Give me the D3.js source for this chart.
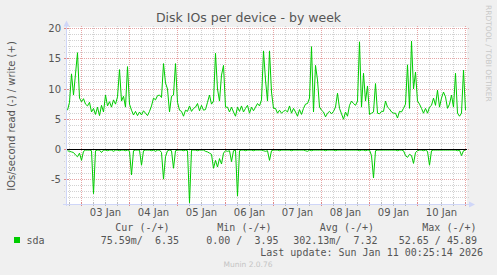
<!DOCTYPE html>
<html><head><meta charset="utf-8">
<script src="https://cdn.jsdelivr.net/npm/d3@7"></script>
<style>
body{margin:0;background:#f0f0f0;}
svg{display:block;}
text{font-family:"DejaVu Sans",sans-serif;fill:#555;}
.mono{font-family:"DejaVu Sans Mono",monospace;white-space:pre;}
</style>
</head><body><svg id="c" width="497" height="275"></svg>
<script>
const title = "Disk IOs per device - by week";
const yLabel = "IOs/second read (-) / write (+)";
const firstSample = Date.UTC(2026, 0, 2, 17, 0); // hourly samples
const writeValues = [
 6.5, 7.8, 12.5, 9.0, 12.5, 16.0, 8.5, 7.9, 8.4, 7.5,
 7.2, 7.8, 6.2, 6.8, 5.8, 7.0, 5.6, 7.3, 6.2, 9.0,
 7.2, 7.9, 7.0, 8.2, 7.5, 8.7, 13.2, 8.0, 8.8, 7.0,
 13.7, 7.5, 6.5, 5.7, 6.3, 5.6, 6.2, 5.7, 6.4, 6.0,
 5.6, 6.3, 7.2, 8.5, 8.2, 8.9, 9.0, 8.6, 14.2, 11.0,
 10.0, 6.2, 8.8, 9.0, 14.2, 7.8, 6.5, 6.3, 5.5, 6.5,
 6.3, 7.2, 6.3, 6.8, 7.0, 7.6, 6.4, 7.3, 6.5, 6.6,
 7.8, 9.0, 7.5, 8.0, 15.9, 10.0, 8.0, 12.3, 13.9, 7.0,
 7.0, 6.2, 7.0, 6.2, 5.5, 7.0, 6.3, 7.2, 6.2, 6.8,
 7.3, 6.0, 7.0, 6.4, 7.0, 7.6, 7.2, 8.2, 16.3, 11.5,
 8.0, 16.3, 9.5, 6.8, 6.8, 6.0, 6.5, 6.0, 6.3, 6.5,
 6.2, 7.2, 6.0, 6.8, 6.2, 5.5, 6.6, 5.8, 6.8, 7.5,
 7.6, 8.5, 17.0, 6.2, 13.9, 11.5, 7.0, 6.5, 6.2, 5.4,
 6.0, 6.3, 5.9, 6.3, 7.0, 9.3, 6.8, 5.9, 5.0, 6.2,
 5.5, 7.3, 8.0, 7.6, 7.3, 8.0, 17.8, 7.0, 12.6, 8.0,
 10.5, 5.8, 6.0, 6.2, 10.9, 6.0, 5.9, 6.3, 6.3, 8.0,
 7.0, 6.7, 6.2, 6.0, 6.0, 5.2, 6.3, 6.2, 6.8, 7.5,
 14.0, 6.8, 17.9, 10.0, 12.8, 8.0, 7.5, 6.8, 6.0, 6.8,
 6.0, 7.0, 7.3, 8.5, 7.3, 9.8, 7.0, 8.5, 9.5, 8.7,
 6.8, 7.5, 9.0, 7.0, 12.6, 6.0, 5.5, 6.0, 13.1, 6.5
];
const readValues = [
 0.2, 0.3, 0.4, 0.5, 0.9, 1.2, 0.6, 1.8, 0.3, 0.1,
 0.1, 0.1, 0.2, 7.3, 0.2, 0.1, 0.1, 0.5, 0.1, 0.1,
 0.2, 0.1, 0.1, 0.3, 0.1, 0.1, 0.2, 0.1, 0.1, 0.2,
 0.1, 0.3, 4.2, 0.2, 0.1, 0.1, 0.1, 2.6, 0.2, 0.1,
 0.1, 0.1, 0.2, 0.1, 0.3, 0.1, 0.1, 0.5, 4.9, 1.2,
 0.2, 0.1, 0.2, 3.1, 0.2, 0.1, 0.1, 0.1, 0.2, 0.1,
 0.2, 8.8, 0.1, 0.1, 0.1, 0.2, 0.1, 0.1, 0.1, 0.3,
 0.4, 0.6, 0.8, 3.1, 1.8, 2.9, 1.5, 2.4, 0.6, 0.2,
 0.3, 0.2, 2.0, 0.2, 0.1, 7.7, 0.2, 0.1, 0.1, 0.2,
 0.1, 0.1, 0.1, 0.2, 0.1, 0.1, 0.1, 0.1, 0.2, 0.3,
 0.2, 1.8, 0.2, 0.1, 0.1, 0.1, 0.2, 0.1, 0.1, 0.1,
 0.1, 0.1, 0.2, 0.1, 0.1, 0.1, 0.1, 0.1, 0.1, 0.2,
 0.3, 0.1, 0.2, 0.1, 0.1, 0.1, 0.1, 0.1, 0.1, 0.2,
 0.1, 0.1, 0.1, 0.1, 0.2, 0.1, 0.1, 0.1, 0.1, 0.1,
 0.1, 0.1, 0.1, 0.1, 0.1, 0.1, 0.2, 0.1, 0.1, 0.2,
 0.1, 0.1, 1.0, 4.7, 0.2, 0.1, 0.1, 0.1, 0.1, 0.1,
 0.1, 0.1, 0.1, 0.1, 0.1, 0.2, 0.1, 0.1, 0.2, 1.0,
 1.3, 0.8, 1.0, 2.3, 0.5, 0.2, 0.1, 0.1, 0.2, 0.1,
 0.3, 2.6, 0.2, 0.1, 0.1, 0.1, 0.1, 0.1, 0.1, 0.1,
 0.1, 0.1, 0.1, 0.1, 0.1, 0.2, 0.1, 1.0, 0.2, 0.1
];
const yTicks = [20, 15, 10, 5, 0, -5];
const yDomain = [-9, 20];
const dayLabels = ["03 Jan", "04 Jan", "05 Jan", "06 Jan", "07 Jan", "08 Jan", "09 Jan", "10 Jan"];
const seriesName = "sda";
const legendHeaders = ["Cur (-/+)", "Min (-/+)", "Avg (-/+)", "Max (-/+)"];
const legendValues = ["75.59m/  6.35", "0.00 /  3.95", "302.13m/  7.32", "52.65 / 45.89"];
const lastUpdate = "Last update: Sun Jan 11 00:25:14 2026";
const footer = "Munin 2.0.76";
const watermark = "RRDTOOL / TOBI OETIKER";

const HOUR = 3600e3;
const svg = d3.select("#c");
const x = d3.scaleUtc()
  .domain([new Date(Date.UTC(2026, 0, 2, 16, 30)), new Date(Date.UTC(2026, 0, 11, 0, 30))])
  .range([66.5, 466.5]);
const y = d3.scaleLinear().domain(yDomain).range([149.5 + 9 * 6.05, 28.5]);
const snap = v => Math.round(v - 0.5) + 0.5;

const write = writeValues.map((v, i) => ({t: new Date(firstSample + i * HOUR), v}));
const read = readValues.map((v, i) => ({t: new Date(firstSample + i * HOUR), v: -v}));

// canvas
svg.append("rect").attr("x", 67).attr("y", 27).attr("width", 400).attr("height", 177).attr("fill", "#fff");

const grid = svg.append("g").attr("shape-rendering", "crispEdges");
// horizontal minor/major grid
d3.range(-8, 21).forEach(v => {
  const major = v % 5 === 0;
  grid.append("line").attr("x1", 64).attr("x2", 469)
    .attr("y1", snap(y(v))).attr("y2", snap(y(v)))
    .attr("stroke", major ? "#e6a6a6" : "#d2d2d2")
    .attr("stroke-dasharray", "1,1");
});
// vertical grid: every 6h, red at midnight
const t0 = Date.UTC(2026, 0, 2, 18, 0);
for (let t = t0; t <= Date.UTC(2026, 0, 11, 0, 0); t += 6 * HOUR) {
  const major = new Date(t).getUTCHours() === 0;
  const xx = snap(x(new Date(t)));
  grid.append("line").attr("x1", xx).attr("x2", xx).attr("y1", 26).attr("y2", 204)
    .attr("stroke", major ? "#e6a6a6" : "#d2d2d2").attr("stroke-dasharray", "1,1");
  grid.append("line").attr("x1", xx).attr("x2", xx).attr("y1", 202).attr("y2", 206)
    .attr("stroke", major ? "#e08888" : "#bbbbbb");
}
// y-axis ticks small marks
yTicks.forEach(v => {
  grid.append("line").attr("x1", 64).attr("x2", 69).attr("y1", snap(y(v))).attr("y2", snap(y(v)))
    .attr("stroke", "#e08888");
});

// axes
const axisCol = "#cfd6f8";
grid.append("line").attr("x1", 66.5).attr("x2", 66.5).attr("y1", 25).attr("y2", 206).attr("stroke", axisCol);
grid.append("line").attr("x1", 63).attr("x2", 470).attr("y1", 204.5).attr("y2", 204.5).attr("stroke", axisCol);
svg.append("path").attr("d", "M63.5,26.5 L66.5,20.5 L69.5,26.5 Z").attr("fill", axisCol);
svg.append("path").attr("d", "M469,201.5 L475,204.5 L469,207.5 Z").attr("fill", axisCol);

// data lines
const line = d3.line().x(d => x(d.t)).y(d => y(d.v));
svg.append("path").datum(write).attr("d", line).attr("fill", "none").attr("stroke", "#00cc00").attr("stroke-width", 1);
svg.append("path").datum(read).attr("d", line).attr("fill", "none").attr("stroke", "#00cc00").attr("stroke-width", 1);
// zero line
svg.append("line").attr("x1", 66.5).attr("x2", 467).attr("y1", snap(y(0))).attr("y2", snap(y(0)))
  .attr("stroke", "#000").attr("shape-rendering", "crispEdges");

// y tick labels
svg.append("g").selectAll("text").data(yTicks).join("text")
  .attr("x", 61).attr("y", d => y(d) + 3.5).attr("text-anchor", "end")
  .attr("font-size", 10).text(d => d);
// x labels at noon
svg.append("g").selectAll("text").data(dayLabels).join("text")
  .attr("x", (d, i) => x(new Date(Date.UTC(2026, 0, 3 + i, 12))))
  .attr("y", 216).attr("text-anchor", "middle").attr("font-size", 10).text(d => d);

// title
svg.append("text").attr("x", 248.5).attr("y", 22).attr("text-anchor", "middle")
  .attr("font-size", 12.5).text(title);
// y label
svg.append("text").attr("transform", "translate(14.5,116) rotate(-90)")
  .attr("text-anchor", "middle").attr("font-size", 10).text(yLabel);
// watermark
svg.append("text").attr("transform", "translate(485.5,5) rotate(90)")
  .attr("font-size", 7.5).style("fill", "#c8c8c8").text(watermark);

// legend
svg.append("rect").attr("x", 14).attr("y", 237).attr("width", 6).attr("height", 6).attr("fill", "#00cc00");
svg.append("text").attr("class", "mono").attr("x", 26.5).attr("y", 243.5).attr("font-size", 10).text(seriesName);
const colEnds = [169.5, 271.5, 374, 476.5];
const valEnds = [179, 278.5, 377.5, 477];
legendHeaders.forEach((h, i) => {
  svg.append("text").attr("class", "mono").attr("x", colEnds[i]).attr("y", 230.5)
    .attr("text-anchor", "end").attr("font-size", 10).text(h);
});
legendValues.forEach((v, i) => {
  svg.append("text").attr("class", "mono").attr("x", valEnds[i]).attr("y", 243.5)
    .attr("text-anchor", "end").attr("font-size", 10).text(v);
});
svg.append("text").attr("class", "mono").attr("x", 483).attr("y", 255.5)
  .attr("text-anchor", "end").attr("font-size", 10).text(lastUpdate);
svg.append("text").attr("x", 248).attr("y", 266.5).attr("text-anchor", "middle")
  .attr("font-size", 7.5).style("fill", "#c4c4c4").text(footer);
</script>
</body></html>
